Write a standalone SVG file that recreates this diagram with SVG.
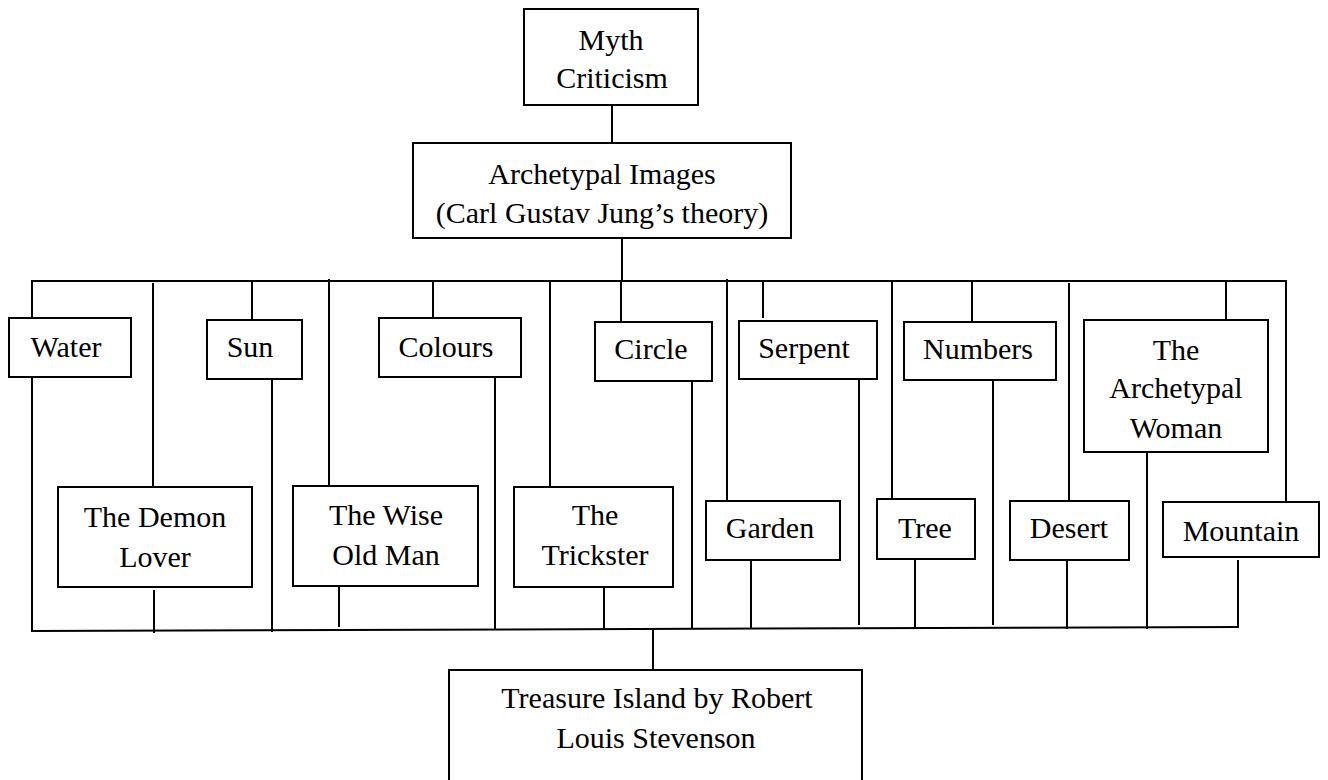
<svg xmlns="http://www.w3.org/2000/svg" width="1328" height="780" viewBox="0 0 1328 780">
<style>
  .box { fill: #ffffff; stroke: #000000; stroke-width: 2; }
  .conn line { stroke: #000000; stroke-width: 2; }
  text { font-family: "Liberation Serif", "Times New Roman", serif; font-size: 30px; fill: #000000; text-anchor: middle; }
</style>
<rect width="1328" height="780" fill="#ffffff"/>
<g id="connectors" class="conn">
  <line x1="612" y1="105" x2="612" y2="143"/>
  <line x1="622" y1="238" x2="622" y2="281"/>
  <line x1="31" y1="281" x2="1287" y2="281"/>
  <line x1="32" y1="281" x2="32" y2="318"/>
  <line x1="153" y1="283" x2="153" y2="487"/>
  <line x1="252" y1="281" x2="252" y2="320"/>
  <line x1="329" y1="279" x2="329" y2="486"/>
  <line x1="433" y1="281" x2="433" y2="318"/>
  <line x1="550" y1="281" x2="550" y2="487"/>
  <line x1="621" y1="281" x2="621" y2="322"/>
  <line x1="727" y1="279" x2="727" y2="501"/>
  <line x1="763" y1="281" x2="763" y2="318"/>
  <line x1="892" y1="281" x2="892" y2="499"/>
  <line x1="972" y1="281" x2="972" y2="322"/>
  <line x1="1069" y1="283" x2="1069" y2="501"/>
  <line x1="1226" y1="281" x2="1226" y2="320"/>
  <line x1="1286" y1="281" x2="1286" y2="502"/>
  <line x1="32" y1="377" x2="32" y2="631"/>
  <line x1="154" y1="590" x2="154" y2="633"/>
  <line x1="272" y1="379" x2="272" y2="632"/>
  <line x1="339" y1="586" x2="339" y2="627"/>
  <line x1="495" y1="377" x2="495" y2="629"/>
  <line x1="604" y1="587" x2="604" y2="630"/>
  <line x1="692" y1="381" x2="692" y2="628"/>
  <line x1="751" y1="560" x2="751" y2="629"/>
  <line x1="859" y1="379" x2="859" y2="625"/>
  <line x1="915" y1="559" x2="915" y2="629"/>
  <line x1="993" y1="380" x2="993" y2="625"/>
  <line x1="1067" y1="560" x2="1067" y2="629"/>
  <line x1="1147" y1="452" x2="1147" y2="629"/>
  <line x1="1238" y1="560" x2="1238" y2="628"/>
  <line x1="31" y1="631" x2="1239" y2="627"/>
  <line x1="653" y1="629" x2="653" y2="670"/>
</g>
<g id="myth"><rect class="box" x="524" y="9" width="174" height="96"/><text x="611" y="50">Myth</text><text x="612" y="88">Criticism</text></g>
<g id="archetypal"><rect class="box" x="413" y="143" width="378" height="95"/><text x="602" y="184">Archetypal Images</text><text x="602" y="223">(Carl Gustav Jung’s theory)</text></g>
<g id="water"><rect class="box" x="9" y="318" width="122" height="59"/><text x="66" y="357">Water</text></g>
<g id="sun"><rect class="box" x="207" y="320" width="95" height="59"/><text x="250" y="357">Sun</text></g>
<g id="colours"><rect class="box" x="379" y="318" width="142" height="59"/><text x="446" y="357">Colours</text></g>
<g id="circle"><rect class="box" x="595" y="322" width="117" height="59"/><text x="651" y="359">Circle</text></g>
<g id="serpent"><rect class="box" x="739" y="321" width="138" height="58"/><text x="804" y="358">Serpent</text></g>
<g id="numbers"><rect class="box" x="904" y="322" width="152" height="58"/><text x="978" y="359">Numbers</text></g>
<g id="woman"><rect class="box" x="1084" y="320" width="184" height="132"/><text x="1176" y="360">The</text><text x="1176" y="398">Archetypal</text><text x="1176" y="438">Woman</text></g>
<g id="demon"><rect class="box" x="58" y="487" width="194" height="100"/><text x="155" y="527">The Demon</text><text x="155" y="567">Lover</text></g>
<g id="wise"><rect class="box" x="293" y="486" width="185" height="100"/><text x="386" y="525">The Wise</text><text x="386" y="565">Old Man</text></g>
<g id="trickster"><rect class="box" x="514" y="487" width="159" height="100"/><text x="595" y="525">The</text><text x="595" y="565">Trickster</text></g>
<g id="garden"><rect class="box" x="706" y="501" width="134" height="59"/><text x="770" y="538">Garden</text></g>
<g id="tree"><rect class="box" x="877" y="499" width="98" height="60"/><text x="925" y="538">Tree</text></g>
<g id="desert"><rect class="box" x="1010" y="501" width="119" height="59"/><text x="1069" y="538">Desert</text></g>
<g id="mountain"><rect class="box" x="1163" y="502" width="156" height="55"/><text x="1241" y="541">Mountain</text></g>
<g id="treasure"><rect class="box" x="449" y="670" width="413" height="130"/><text x="657" y="708">Treasure Island by Robert</text><text x="656" y="748">Louis Stevenson</text></g>
</svg>
